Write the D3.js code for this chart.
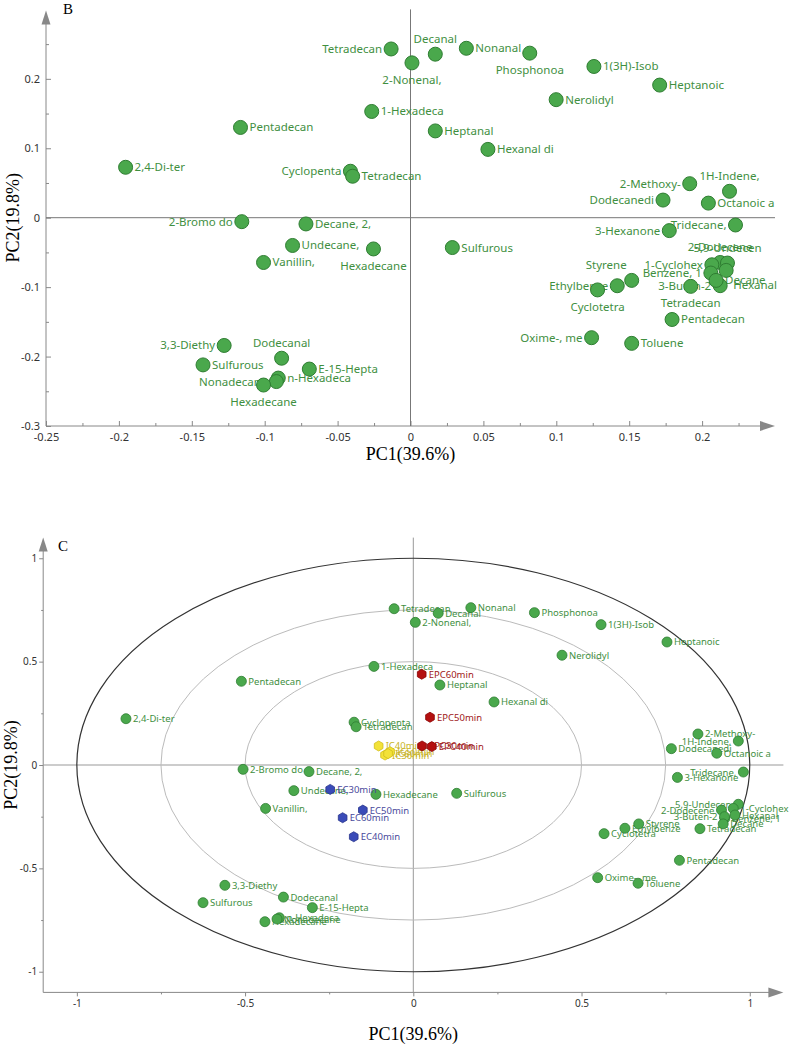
<!DOCTYPE html>
<html>
<head>
<meta charset="utf-8">
<script src="https://cdn.jsdelivr.net/npm/d3@7"></script>
<style>
  body { margin: 0; background: #fff; }
  svg { display: block; }
  .tick text { font-family: "Noto Sans", sans-serif; fill: #333; }
  .tick line { stroke: #888; }
</style>
</head>
<body>
<div class="chart"></div>
<script>
// compound names (same order in both panels)
var compounds = ["Tetradecan", "2-Nonenal,", "Decanal", "Nonanal", "Phosphonoa", "1(3H)-Isob",
  "Heptanoic", "1-Hexadeca", "Nerolidyl", "Pentadecan", "Heptanal", "Hexanal di", "2,4-Di-ter",
  "Cyclopenta", "Tetradecan", "2-Methoxy-", "1H-Indene,", "Dodecanedi", "Octanoic a", "2-Bromo do",
  "Decane, 2,", "Tridecane,", "3-Hexanone", "Undecane,", "Sulfurous", "Hexadecane", "Vanillin,",
  "2-Dodecene", "5,9-Undecen", "1-Cyclohex", "Benzene, 1", "Hexanal", "3-Buten-2", "Decane",
  "Tetradecan", "Styrene", "Ethylbenze", "Cyclotetra", "Pentadecan", "Oxime-, me", "Toluene",
  "3,3-Diethy", "Dodecanal", "Sulfurous", "E-15-Hepta", "n-Hexadeca", "Nonadecane", "Hexadecane"];

// panel B loadings
var pc1B = [-0.0133, 0.001, 0.017, 0.0383, 0.0818, 0.1258, 0.1709, -0.0266, 0.0999, -0.1166, 0.017,
  0.0531, -0.1954, -0.0412, -0.0397, 0.1915, 0.2188, 0.1732, 0.2043, -0.1157, -0.0717, 0.2229, 0.1775,
  -0.0809, 0.0287, -0.0254, -0.1008, 0.2124, 0.2174, 0.2067, 0.206, 0.2165, 0.2124, 0.2096, 0.1922,
  0.1517, 0.1418, 0.1283, 0.1794, 0.1242, 0.1517, -0.1278, -0.0884, -0.1423, -0.0694, -0.0907, -0.092, -0.1008];
var pc2B = [0.243, 0.223, 0.2355, 0.244, 0.237, 0.2178, 0.191, 0.153, 0.170, 0.130, 0.125, 0.0984,
  0.0726, 0.0669, 0.0597, 0.049, 0.038, 0.0254, 0.021, -0.0057, -0.009, -0.0105, -0.0186, -0.040, -0.043,
  -0.045, -0.0645, -0.0645, -0.0653, -0.0678, -0.0797, -0.0759, -0.0979, -0.0903, -0.0989, -0.0903,
  -0.098, -0.104, -0.1466, -0.1728, -0.181, -0.184, -0.2024, -0.212, -0.218, -0.231, -0.236, -0.241];
var sideB = ["l", "b", "a", "r", "b", "r", "r", "r", "r", "r", "r", "r", "r", "l", "r", "l", "a", "l", "r",
  "l", "r", "l", "l", "r", "r", "b", "r", "a", "a", "l", "l", "br", "l", "r", "b", "al", "l", "b", "r",
  "l", "r", "l", "a", "r", "r", "r", "l", "b"];

// panel C correlation loadings
var pc1C = [-0.057, 0.006, 0.074, 0.171, 0.360, 0.558, 0.754, -0.117, 0.442, -0.511, 0.079, 0.240,
  -0.854, -0.176, -0.170, 0.846, 0.966, 0.767, 0.902, -0.506, -0.310, 0.981, 0.785, -0.355, 0.129,
  -0.111, -0.439, 0.916, 0.966, 0.951, 0.926, 0.956, 0.925, 0.921, 0.852, 0.670, 0.629, 0.567, 0.791,
  0.548, 0.668, -0.560, -0.386, -0.625, -0.300, -0.398, -0.405, -0.441];
var pc2C = [0.756, 0.690, 0.734, 0.761, 0.737, 0.679, 0.595, 0.477, 0.531, 0.405, 0.387, 0.305, 0.224,
  0.207, 0.185, 0.150, 0.116, 0.079, 0.057, -0.021, -0.032, -0.034, -0.060, -0.124, -0.137, -0.142,
  -0.210, -0.218, -0.190, -0.210, -0.258, -0.242, -0.250, -0.285, -0.308, -0.285, -0.306, -0.332,
  -0.461, -0.545, -0.572, -0.582, -0.639, -0.666, -0.690, -0.739, -0.745, -0.758];
var sideC = compounds.map(function(d, i) {
  return (i === 16 || i === 21 || i === 27 || i === 28 || i === 32) ? "l" : "r";
});

// samples in panel C
var samples = ["EC30min", "EC40min", "EC50min", "EC60min",
  "EPC30min", "EPC40min", "EPC50min", "EPC60min",
  "IC40min", "IC30min", "IC50min", "IC60min"];
var sampleGroup = ["EC", "EC", "EC", "EC", "EPC", "EPC", "EPC", "EPC", "IC", "IC", "IC", "IC"];
var samplePC1 = [-0.247, -0.177, -0.150, -0.210, 0.026, 0.055, 0.0496, 0.025, -0.103, -0.084, -0.069, -0.075];
var samplePC2 = [-0.118, -0.347, -0.218, -0.255, 0.092, 0.089, 0.231, 0.439, 0.092, 0.048, 0.064, 0.055];

var ticksB_x = [-0.25, -0.2, -0.15, -0.1, -0.05, 0, 0.05, 0.1, 0.15, 0.2];
var minorB_x = [-0.225, -0.175, -0.125, -0.075, -0.025, 0.025, 0.075, 0.125, 0.175, 0.225];
var ticksB_y = [-0.3, -0.2, -0.1, 0, 0.1, 0.2];
var minorB_y = [-0.25, -0.15, -0.05, 0.05, 0.15, 0.25];
var ticksC = [-1, -0.5, 0, 0.5, 1];
var minorC = [-0.75, -0.25, 0.25, 0.75];
var ringsC = [1, 0.75, 0.5];

var green = "#4aa84c", greenStroke = "#2f7d32", greenText = "#3f8f3f";
var groupFill = { EC: "#3a4bb8", EPC: "#b41010", IC: "#f3e238" };
var groupStroke = { EC: "#28358c", EPC: "#8a0000", IC: "#d2be1a" };
var groupText = { EC: "#4a4a9c", EPC: "#a01818", IC: "#c9b52a" };

var svg = d3.select(".chart").append("svg")
  .attr("width", 797)
  .attr("height", 1044);

var fmt = function(d) { return String(d); };
var axisColor = "#888";

function arrowRight(g, x, y) {
  g.append("path").attr("d", `M${x},${y} L${x - 15},${y - 5} L${x - 15},${y + 5} Z`).attr("fill", axisColor);
}
function arrowUp(g, x, y) {
  g.append("path").attr("d", `M${x},${y} L${x - 4.5},${y + 14} L${x + 4.5},${y + 14} Z`).attr("fill", axisColor);
}

function labelPos(side, r) {
  // returns dx, dy (baseline), anchor
  if (side === "l") return [-r - 2, 4, "end"];
  if (side === "a") return [0, -r - 4, "middle"];
  if (side === "b") return [0, r + 14, "middle"];
  if (side === "al") return [-5, -r - 4, "end"];
  if (side === "br") return [r, r + 12, "start"];
  return [r + 2, 4, "start"];
}

/***************************************************************************/
// panel B
var xB = d3.scaleLinear().domain([-0.25, 0.25]).range([46, 775]);
var yB = d3.scaleLinear().domain([-0.3, 0.3]).range([426, 9.4]);
var gB = svg.append("g");

gB.append("g").attr("transform", `translate(0,${yB(-0.3)})`)
  .call(d3.axisBottom(xB).tickValues(ticksB_x).tickSize(-5).tickPadding(7).tickFormat(fmt))
  .call(g => g.select(".domain").remove())
  .selectAll("text").style("font-size", "11px");
gB.append("g").attr("transform", `translate(0,${yB(-0.3)})`)
  .call(d3.axisBottom(xB).tickValues(minorB_x).tickSize(-3).tickFormat(""))
  .call(g => g.select(".domain").remove());
gB.append("g").attr("transform", `translate(${xB(-0.25)},0)`)
  .call(d3.axisLeft(yB).tickValues(ticksB_y).tickSize(-5).tickPadding(6).tickFormat(fmt))
  .call(g => g.select(".domain").remove())
  .selectAll("text").style("font-size", "11px");
gB.append("g").attr("transform", `translate(${xB(-0.25)},0)`)
  .call(d3.axisLeft(yB).tickValues(minorB_y).tickSize(-3).tickFormat(""))
  .call(g => g.select(".domain").remove());

// axis lines + zero lines
gB.append("line").attr("x1", xB(-0.25)).attr("x2", xB(0.25) - 8)
  .attr("y1", yB(-0.3)).attr("y2", yB(-0.3)).attr("stroke", axisColor);
arrowRight(gB, xB(0.25), yB(-0.3));
gB.append("line").attr("x1", xB(-0.25)).attr("x2", xB(-0.25))
  .attr("y1", yB(-0.3)).attr("y2", yB(0.3) + 6).attr("stroke", axisColor);
arrowUp(gB, xB(-0.25), yB(0.3) + 1);
gB.append("line").attr("x1", xB(-0.25)).attr("x2", xB(0.25))
  .attr("y1", yB(0)).attr("y2", yB(0)).attr("stroke", "#777");
gB.append("line").attr("x1", xB(0)).attr("x2", xB(0))
  .attr("y1", yB(-0.3)).attr("y2", yB(0.3)).attr("stroke", "#777");

gB.append("text").attr("x", 63).attr("y", 14)
  .style("font-family", "'Liberation Serif', serif").style("font-size", "15px").text("B");
gB.append("text").attr("x", xB(0)).attr("y", 460).attr("text-anchor", "middle")
  .style("font-family", "'Liberation Serif', serif").style("font-size", "18px").text("PC1(39.6%)");
gB.append("text").attr("transform", `translate(19,${yB(0)}) rotate(-90)`).attr("text-anchor", "middle")
  .style("font-family", "'Liberation Serif', serif").style("font-size", "18px").text("PC2(19.8%)");

var idx = d3.range(compounds.length);
var rB = 7;
gB.append("g").selectAll("text").data(idx).enter().append("text")
  .attr("x", i => xB(pc1B[i]) + labelPos(sideB[i], rB)[0])
  .attr("y", i => yB(pc2B[i]) + labelPos(sideB[i], rB)[1])
  .attr("text-anchor", i => labelPos(sideB[i], rB)[2])
  .style("font-family", "'Noto Sans', sans-serif").style("font-size", "11.5px")
  .attr("fill", greenText)
  .text(i => compounds[i]);
gB.append("g").selectAll("circle").data(idx).enter().append("circle")
  .attr("cx", i => xB(pc1B[i]))
  .attr("cy", i => yB(pc2B[i]))
  .attr("r", rB)
  .attr("fill", green).attr("stroke", greenStroke).attr("stroke-width", 1);

/***************************************************************************/
// panel C
var xC = d3.scaleLinear().domain([-1.1, 1.1]).range([43.2, 783.4]);
var yC = d3.scaleLinear().domain([-1.1, 1.1]).range([992.4, 537.6]);
var gC = svg.append("g");

gC.append("g").attr("transform", `translate(0,${yC(-1.1)})`)
  .call(d3.axisBottom(xC).tickValues(ticksC).tickSize(4).tickPadding(4).tickFormat(fmt))
  .call(g => g.select(".domain").remove())
  .selectAll("text").style("font-size", "10px");
gC.append("g").attr("transform", `translate(0,${yC(-1.1)})`)
  .call(d3.axisBottom(xC).tickValues(minorC).tickSize(2).tickFormat(""))
  .call(g => g.select(".domain").remove());
gC.append("g").attr("transform", `translate(${xC(-1.1)},0)`)
  .call(d3.axisLeft(yC).tickValues(ticksC).tickSize(4).tickPadding(2).tickFormat(fmt))
  .call(g => g.select(".domain").remove())
  .selectAll("text").style("font-size", "10px");
gC.append("g").attr("transform", `translate(${xC(-1.1)},0)`)
  .call(d3.axisLeft(yC).tickValues(minorC).tickSize(2).tickFormat(""))
  .call(g => g.select(".domain").remove());

gC.append("line").attr("x1", xC(-1.1)).attr("x2", xC(1.1) - 8)
  .attr("y1", yC(-1.1)).attr("y2", yC(-1.1)).attr("stroke", axisColor);
arrowRight(gC, xC(1.1), yC(-1.1));
gC.append("line").attr("x1", xC(-1.1)).attr("x2", xC(-1.1))
  .attr("y1", yC(-1.1)).attr("y2", yC(1.1) + 6).attr("stroke", axisColor);
arrowUp(gC, xC(-1.1), yC(1.1));
gC.append("line").attr("x1", xC(-1.1)).attr("x2", xC(1.1))
  .attr("y1", yC(0)).attr("y2", yC(0)).attr("stroke", "#999");
gC.append("line").attr("x1", xC(0)).attr("x2", xC(0))
  .attr("y1", yC(-1.1)).attr("y2", yC(1.1)).attr("stroke", "#999");

gC.selectAll("ellipse").data(ringsC).enter().append("ellipse")
  .attr("cx", xC(0)).attr("cy", yC(0))
  .attr("rx", d => xC(d) - xC(0))
  .attr("ry", d => yC(0) - yC(d))
  .attr("fill", "none")
  .attr("stroke", d => d === 1 ? "#333" : "#bbb")
  .attr("stroke-width", d => d === 1 ? 1.2 : 1);

gC.append("text").attr("x", 58).attr("y", 551)
  .style("font-family", "'Liberation Serif', serif").style("font-size", "15px").text("C");
gC.append("text").attr("x", xC(0)).attr("y", 1040).attr("text-anchor", "middle")
  .style("font-family", "'Liberation Serif', serif").style("font-size", "18px").text("PC1(39.6%)");
gC.append("text").attr("transform", `translate(17,${yC(0)}) rotate(-90)`).attr("text-anchor", "middle")
  .style("font-family", "'Liberation Serif', serif").style("font-size", "18px").text("PC2(19.8%)");

var rC = 5;
gC.append("g").selectAll("text").data(idx).enter().append("text")
  .attr("x", i => xC(pc1C[i]) + labelPos(sideC[i], rC)[0])
  .attr("y", i => yC(pc2C[i]) + 3.5)
  .attr("text-anchor", i => labelPos(sideC[i], rC)[2])
  .style("font-family", "'Noto Sans', sans-serif").style("font-size", "9.5px")
  .attr("fill", greenText)
  .text(i => compounds[i]);
gC.append("g").selectAll("circle").data(idx).enter().append("circle")
  .attr("cx", i => xC(pc1C[i]))
  .attr("cy", i => yC(pc2C[i]))
  .attr("r", rC)
  .attr("fill", green).attr("stroke", greenStroke).attr("stroke-width", 0.8);

// sample hexagons
var hex = d3.line()(d3.range(6).map(function(k) {
  var a = Math.PI / 3 * k + Math.PI / 6;
  return [5 * Math.cos(a), 5 * Math.sin(a)];
})) + "Z";
var sIdx = d3.range(samples.length);
gC.append("g").selectAll("text").data(sIdx).enter().append("text")
  .attr("x", i => xC(samplePC1[i]) + 7)
  .attr("y", i => yC(samplePC2[i]) + 3.5)
  .style("font-family", "'Noto Sans', sans-serif").style("font-size", "9.5px")
  .attr("fill", i => groupText[sampleGroup[i]])
  .text(i => samples[i]);
gC.append("g").selectAll("path").data(sIdx).enter().append("path")
  .attr("d", hex)
  .attr("transform", i => `translate(${xC(samplePC1[i])},${yC(samplePC2[i])})`)
  .attr("fill", i => groupFill[sampleGroup[i]])
  .attr("stroke", i => groupStroke[sampleGroup[i]])
  .attr("stroke-width", 0.8);
</script>
</body>
</html>
